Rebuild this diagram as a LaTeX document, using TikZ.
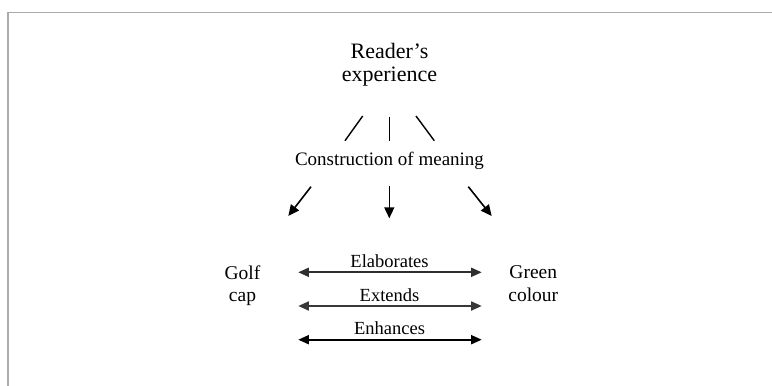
\documentclass[tikz,border=0pt]{standalone}
\usepackage{fontspec}
\setmainfont{Liberation Serif}
\usetikzlibrary{arrows.meta}

\begin{document}
\begin{tikzpicture}[x=1pt,y=-1pt,
  txt/.style={inner sep=0pt,anchor=base,text=black},
  title/.style={txt,font=\fontsize{22}{23.5}\selectfont,align=center},
  item/.style={txt,font=\fontsize{19.5}{22.7}\selectfont,align=center},
  mid/.style={txt,font=\fontsize{19}{22}\selectfont},
  rel/.style={txt,font=\fontsize{18.5}{21}\selectfont},
  tick/.style={line width=1.4pt,black},
  down/.style={line width=1.6pt,black,-{Triangle[length=11pt,width=10pt]}},
  both/.style={line width=1.7pt,{Triangle[length=10.5pt,width=9pt]}-{Triangle[length=10.5pt,width=9pt]}},
  frame/.style={line width=1.5pt,black!33}
]
\useasboundingbox (0,0) rectangle (772,386);

% partial frame along the top and left edges
\coordinate (fr1) at (772,12.7);
\coordinate (fr2) at (8,12.7);
\coordinate (fr3) at (8,386);
\draw[frame] (fr1) -- (fr2) -- (fr3);

% text (multi-line nodes sit on the baseline of their last line)
\node[title] (reader) at (389.5,81.5) {Reader’s\\experience};
\node[mid] (constr) at (389.5,165) {Construction of meaning};
\node[item] (golf) at (242.5,301.7) {Golf\\cap};
\node[item] (green) at (533.3,301.2) {Green\\colour};

% short strokes between the two upper labels
\coordinate (t1a) at (362.7,116); \coordinate (t1b) at (345,140.7);
\coordinate (t2a) at (389.3,116.5); \coordinate (t2b) at (389.3,140.7);
\coordinate (t3a) at (416,116); \coordinate (t3b) at (434.3,140.7);
\draw[tick] (t1a) -- (t1b);
\draw[tick] (t2a) -- (t2b);
\draw[tick] (t3a) -- (t3b);

% arrows fanning out below
\coordinate (d1a) at (311,186.7); \coordinate (d1b) at (288.3,216);
\coordinate (d2a) at (389.3,186); \coordinate (d2b) at (389.3,218.3);
\coordinate (d3a) at (468.3,186.7); \coordinate (d3b) at (491.7,216);
\draw[down] (d1a) -- (d1b);
\draw[down] (d2a) -- (d2b);
\draw[down] (d3a) -- (d3b);

% relations between the two items
\coordinate (r1a) at (298.3,272.3); \coordinate (r1b) at (481.7,272.3);
\coordinate (r2a) at (298.3,306); \coordinate (r2b) at (481.7,306);
\coordinate (r3a) at (298.3,339.7); \coordinate (r3b) at (481.7,339.7);
\draw[both,black!82] (r1a) -- (r1b);
\draw[both,black!78] (r2a) -- (r2b);
\draw[both,black] (r3a) -- (r3b);
\node[rel] (elab) at (389.5,267.3) {Elaborates};
\node[rel] (ext) at (389.5,301) {Extends};
\node[rel] (enh) at (389.5,334.7) {Enhances};
\end{tikzpicture}
\end{document}
